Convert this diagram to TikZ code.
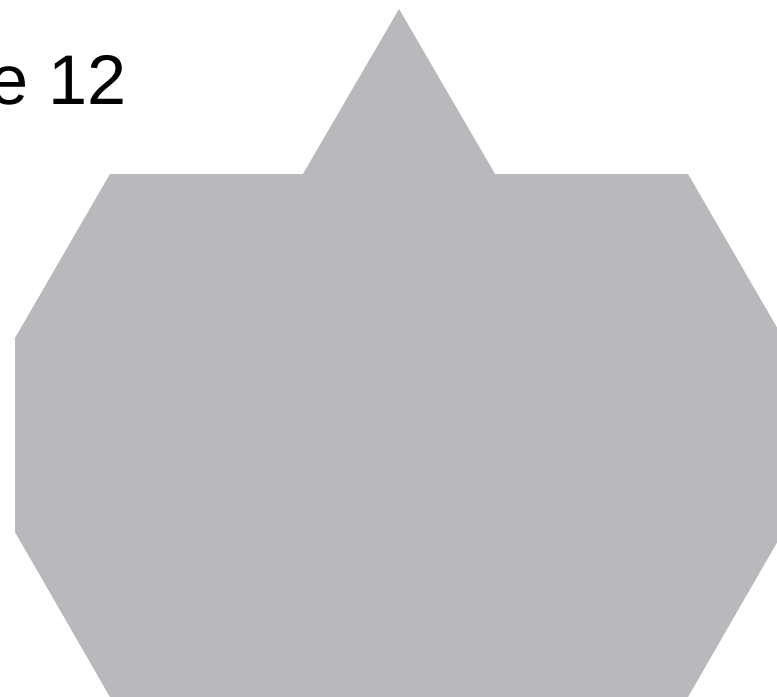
\documentclass[tikz,border=0pt]{standalone}
\usepackage{fontspec}
\setmainfont{Liberation Sans}
\usetikzlibrary{positioning}
\definecolor{badgegray}{RGB}{185,184,189}

\begin{document}
\begin{tikzpicture}[x=0.02cm, y=-0.02cm,
    badge/.style={fill=badgegray, draw=none},
    label/.style={inner sep=0pt, font=\fontsize{40}{48}\selectfont}]
    \useasboundingbox (0,0) rectangle (777,696);
    \clip (0,0) rectangle (777,696);

    % body with the spike on top
    \path[badge] (110,174) -- (303,174) -- (399,9) -- (495,174) -- (688,174)
        -- (783,338) -- (783,532) -- (688,697) -- (110,697)
        -- (15,532) -- (15,338) -- cycle;

    \node[label, anchor=base east] (number) at (127,105) {e 12};
\end{tikzpicture}
\end{document}
